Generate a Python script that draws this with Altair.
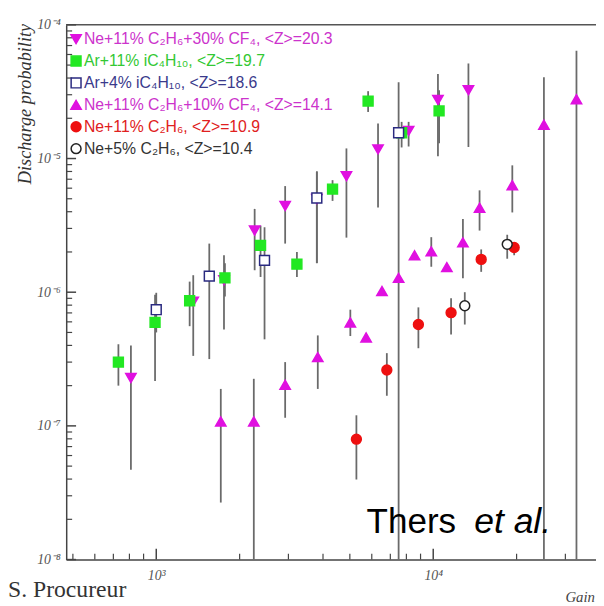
import altair as alt
import pandas as pd

# ---------------- data ----------------
names = [
    "Ne+11% C₂H₆+30% CF₄, <Z>=20.3",
    "Ar+11% iC₄H₁₀, <Z>=19.7",
    "Ar+4% iC₄H₁₀, <Z>=18.6",
    "Ne+11% C₂H₆+10% CF₄, <Z>=14.1",
    "Ne+11% C₂H₆, <Z>=10.9",
    "Ne+5% C₂H₆, <Z>=10.4",
]

# Ne+11% C2H6+30% CF4
a_gain = [810, 1360, 1756, 2266, 2920, 3800, 4860, 6320, 8150, 10400, 13400]
a_prob = [2.28e-7, 8.5e-7, 1.23e-6, 2.89e-6, 4.42e-6, 4.98e-6, 7.37e-6, 1.17e-5, 1.61e-5, 2.74e-5, 3.24e-5]
a_lo = [4.7e-8, 3.34e-7, 5.26e-7, 1.46e-6, 2.31e-6, 1.65e-6, 2.56e-6, 4.3e-6, 1.23e-5, 1.04e-5, 1.22e-5]
a_hi = [4.0e-7, 1.34e-6, 1.89e-6, 4.2e-6, 6.22e-6, 8.0e-6, 1.19e-5, 1.83e-5, 1.88e-5, 4.28e-5, 5.14e-5]

# Ar+11% iC4H10
b_gain = [730, 990, 1320, 1770, 2380, 3220, 4330, 5820, 7690, 10500]
b_prob = [3.0e-7, 5.94e-7, 8.63e-7, 1.28e-6, 2.24e-6, 1.62e-6, 5.91e-6, 2.69e-5, 1.56e-5, 2.27e-5]
b_lo = [2.0e-7, 2.17e-7, 5.57e-7, 9.3e-7, 1.3e-6, 1.3e-6, 4.82e-6, 2.23e-5, 1.21e-5, 1.3e-5]
b_hi = [4.08e-7, 9.55e-7, 1.2e-6, 1.65e-6, 3.15e-6, 2.0e-6, 6.89e-6, 3.19e-5, 1.88e-5, 3.24e-5]

# Ar+4% iC4H10
c_gain = [1000, 1554, 2460, 3800, 7500]
c_prob = [7.4e-7, 1.32e-6, 1.73e-6, 5.07e-6, 1.56e-5]
c_lo = [5.0e-7, 3.16e-7, 4.44e-7, 1.65e-6, 1e-8]
c_hi = [9.9e-7, 2.31e-6, 3.06e-6, 8.0e-6, 3.72e-5]

# Ne+11% C2H6+10% CF4
d_gain = [1710, 2250, 2920, 3830, 5020, 5725, 6530, 7500, 8560, 9840, 11200, 12800, 14700, 19300, 25100, 32900]
d_prob = [1.08e-7, 1.08e-7, 2.03e-7, 3.27e-7, 5.94e-7, 4.59e-7, 1.02e-6, 1.28e-6, 1.89e-6, 2.02e-6, 1.54e-6,
          2.36e-6, 4.28e-6, 6.32e-6, 1.79e-5, 2.78e-5]
d_lo = [2.67e-8, 1e-8, 1.15e-7, 1.89e-7, 4.7e-7, 4.59e-7, 1.02e-6, 1.28e-6, 1.89e-6, 1.55e-6, 1.54e-6,
        1.27e-6, 2.89e-6, 3.95e-6, 1e-8, 1e-8]
d_hi = [1.89e-7, 2.25e-7, 3.0e-7, 4.75e-7, 7.4e-7, 4.59e-7, 1.02e-6, 1.28e-6, 1.89e-6, 2.58e-6, 1.54e-6,
        3.53e-6, 5.78e-6, 8.89e-6, 4.05e-5, 6.41e-5]

# Ne+11% C2H6
e_gain = [5280, 6800, 8840, 11600, 14900, 19600]
e_prob = [7.95e-8, 2.62e-7, 5.73e-7, 7.03e-7, 1.76e-6, 2.16e-6]
e_lo = [3.97e-8, 1.68e-7, 3.81e-7, 4.83e-7, 1.42e-6, 1.89e-6]
e_hi = [1.2e-7, 3.5e-7, 7.7e-7, 9.0e-7, 2.09e-6, 2.37e-6]

# Ne+5% C2H6
f_gain = [13000, 18500]
f_prob = [7.92e-7, 2.28e-6]
f_lo = [5.73e-7, 1.78e-6]
f_hi = [1.0e-6, 2.69e-6]

x_major = [1000, 10000]
x_minor = [500, 600, 700, 800, 900, 2000, 3000, 4000, 5000, 6000, 7000, 8000, 9000, 20000, 30000]
y_major = [1e-8, 1e-7, 1e-6, 1e-5, 1e-4]
y_minor = [m * 10.0 ** e for e in range(-8, -4) for m in range(2, 10)]

# ---------------- styling ----------------
series_style = [
    dict(shape="triangle-down", fill="#e010e0", stroke="#e010e0", text="#cc33cc", size=110),
    dict(shape="square", fill="#22e822", stroke="#22e822", text="#33c833", size=100),
    dict(shape="square", fill="white", stroke="#2a2a80", text="#3a3a8c", size=100),
    dict(shape="triangle-up", fill="#e010e0", stroke="#e010e0", text="#cc33cc", size=110),
    dict(shape="circle", fill="#ee1010", stroke="#ee1010", text="#e02020", size=100),
    dict(shape="circle", fill="white", stroke="#222222", text="#333333", size=100),
]

W, H = 537, 542
xs = alt.Scale(type="log", domain=[473, 38700], nice=False)
ys = alt.Scale(type="log", domain=[1e-8, 1e-4], nice=False)

all_series = [
    (a_gain, a_prob, a_lo, a_hi),
    (b_gain, b_prob, b_lo, b_hi),
    (c_gain, c_prob, c_lo, c_hi),
    (d_gain, d_prob, d_lo, d_hi),
    (e_gain, e_prob, e_lo, e_hi),
    (f_gain, f_prob, f_lo, f_hi),
]
frames = []
for i, (g, p, lo, hi) in enumerate(all_series):
    frames.append(pd.DataFrame({"series": names[i], "gain": g, "prob": p, "lo": lo, "hi": hi}))
df = pd.concat(frames, ignore_index=True)

ylab = ("datum.value < 5e-8 ? '10⁻⁸' : datum.value < 5e-7 ? '10⁻⁷' : datum.value < 5e-6 ? '10⁻⁶' : "
        "datum.value < 5e-5 ? '10⁻⁵' : '10⁻⁴'")
xlab = "datum.value < 5000 ? '10³' : '10⁴'"

x_axis = alt.Axis(values=x_major, labelExpr=xlab, ticks=False, grid=False, domainColor="#444",
                  domainWidth=1.5, labelFont="Liberation Serif", labelFontStyle="italic", labelFontSize=14,
                  labelColor="#555", labelPadding=9, labelFlush=False, title=None)
y_axis = alt.Axis(values=y_major, labelExpr=ylab, ticks=False, grid=False, domainColor="#444",
                  domainWidth=1.5, labelFont="Liberation Serif", labelFontStyle="italic", labelFontSize=14,
                  labelColor="#555", labelPadding=6, labelFlush=False, title=None)


def X(field):
    return alt.X(field, scale=xs, axis=x_axis)


def Y(field):
    return alt.Y(field, scale=ys, axis=y_axis)


layers = []

# error bars
layers.append(alt.Chart(df).mark_rule(color="#6a6a6a", strokeWidth=1.8).encode(
    x=X("gain:Q"), y=Y("lo:Q"), y2="hi:Q"))

# top frame line
layers.append(alt.Chart(pd.DataFrame({"a": [0]})).mark_rule(color="#555", strokeWidth=1.5).encode(
    x=alt.value(0), x2=alt.value(W), y=alt.value(0)))

# inner ticks
layers.append(alt.Chart(pd.DataFrame({"v": x_major})).mark_rule(color="#444", strokeWidth=1.5).encode(
    x=X("v:Q"), y=alt.value(H), y2=alt.value(H - 11)))
layers.append(alt.Chart(pd.DataFrame({"v": x_minor})).mark_rule(color="#444", strokeWidth=1.2).encode(
    x=X("v:Q"), y=alt.value(H), y2=alt.value(H - 6)))
layers.append(alt.Chart(pd.DataFrame({"v": y_major})).mark_rule(color="#444", strokeWidth=1.5).encode(
    y=Y("v:Q"), x=alt.value(0), x2=alt.value(10)))
layers.append(alt.Chart(pd.DataFrame({"v": y_minor})).mark_rule(color="#444", strokeWidth=1.2).encode(
    y=Y("v:Q"), x=alt.value(0), x2=alt.value(6)))

# points
for i in range(len(all_series)):
    st = series_style[i]
    sdf = df[df["series"] == names[i]]
    layers.append(alt.Chart(sdf).mark_point(shape=st["shape"], filled=True, fill=st["fill"], stroke=st["stroke"],
                                            strokeWidth=1.5, size=st["size"], opacity=1).encode(
        x=X("gain:Q"), y=Y("prob:Q")))

# legend (inside plot, top-left)
for i, nm in enumerate(names):
    st = series_style[i]
    ly = 14.5 + 22.2 * i
    ldf = pd.DataFrame({"t": [nm]})
    layers.append(alt.Chart(ldf).mark_point(shape=st["shape"], filled=True, fill=st["fill"], stroke=st["stroke"],
                                            strokeWidth=1.5, size=st["size"], opacity=1).encode(
        x=alt.value(10), y=alt.value(ly)))
    layers.append(alt.Chart(ldf).mark_text(align="left", baseline="middle", font="Liberation Sans", fontSize=16,
                                           color=st["text"]).encode(
        x=alt.value(18), y=alt.value(ly), text="t:N"))


# annotations
def note(txt, x, y, **kw):
    return alt.Chart(pd.DataFrame({"t": [txt]})).mark_text(**kw).encode(x=alt.value(x), y=alt.value(y), text="t:N")


layers.append(note("Discharge probability", -42, -1, align="right", baseline="middle", angle=270,
                   font="Liberation Serif", fontStyle="italic", fontSize=18.5, color="#333"))
layers.append(note("Gain", 506, 585, align="left", baseline="alphabetic",
                   font="Liberation Serif", fontStyle="italic", fontSize=15, color="#444"))
layers.append(note("S. Procureur", -59, 580, align="left", baseline="alphabetic",
                   font="Liberation Serif", fontSize=24, color="#333"))
layers.append(note("Thers", 304.5, 515, align="left", baseline="alphabetic",
                   font="Liberation Sans", fontSize=35.5, color="#000"))
layers.append(note("et al.", 413.5, 515, align="left", baseline="alphabetic",
                   font="Liberation Sans", fontStyle="italic", fontSize=36, color="#000"))

chart = alt.layer(*layers).properties(
    width=W, height=H,
    autosize=alt.AutoSizeParams(type="none"),
    padding={"left": 59, "top": 13, "right": 0, "bottom": 43},
    background="white",
).configure_view(stroke=None)

chart.save("out.html", embed_options={"renderer": "svg", "actions": False})
